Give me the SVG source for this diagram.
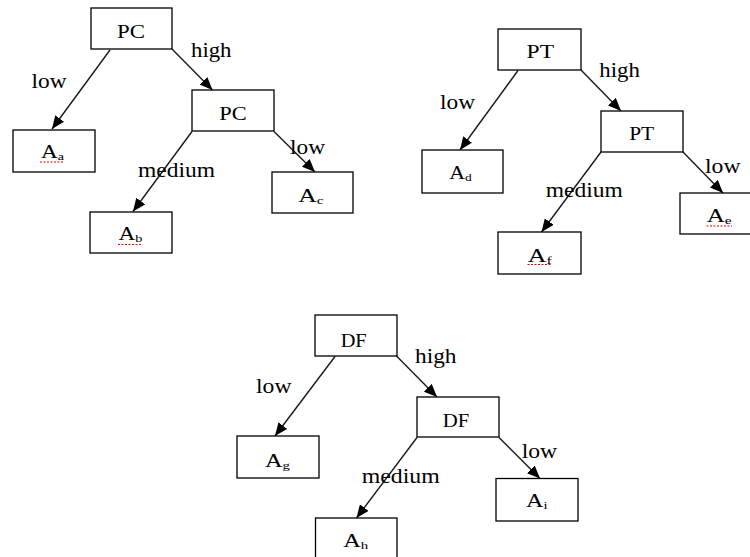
<svg xmlns="http://www.w3.org/2000/svg" width="750" height="557" viewBox="0 0 750 557">
<defs>
<marker id="arr" viewBox="0 0 13 11" refX="13" refY="5.5" markerWidth="13" markerHeight="11" markerUnits="userSpaceOnUse" orient="auto">
<path d="M0,0 L13,5.5 L0,11 Z" fill="#000"/>
</marker>
<style>
rect.n{fill:#fff;stroke:#000;stroke-width:1.3}
.t{font-family:"Liberation Serif","Times New Roman",serif;font-size:18px;fill:#000;text-anchor:middle}
.l{font-family:"Liberation Serif","Times New Roman",serif;font-size:20px;fill:#000}
.s{font-size:11px}
line.e{stroke:#1a1a1a;stroke-width:1.4;marker-end:url(#arr)}
.sq{stroke:#d00;stroke-width:1;stroke-dasharray:2 1.5;fill:none}
</style>
</defs>
<rect width="750" height="557" fill="#fff"/>

<g id="edges">
<line class="e" x1="110" y1="50" x2="52" y2="129"/>
<line class="e" x1="172" y1="49" x2="212.5" y2="90"/>
<line class="e" x1="192" y1="131.5" x2="133" y2="211.5"/>
<line class="e" x1="274" y1="131.5" x2="315" y2="172"/>
<line class="e" x1="518" y1="70.5" x2="460" y2="150"/>
<line class="e" x1="581" y1="70" x2="621" y2="111"/>
<line class="e" x1="601" y1="152" x2="541.5" y2="232"/>
<line class="e" x1="683" y1="152" x2="723" y2="193"/>
<line class="e" x1="335" y1="356.5" x2="275" y2="436"/>
<line class="e" x1="396.5" y1="356" x2="437" y2="397"/>
<line class="e" x1="417" y1="437.5" x2="356.5" y2="518"/>
<line class="e" x1="499" y1="437.5" x2="540" y2="478.5"/>
</g>

<g id="edge-labels">
<text class="l" x="31.5" y="88" textLength="35" lengthAdjust="spacingAndGlyphs">low</text>
<text class="l" x="191" y="56.5" textLength="40.5" lengthAdjust="spacingAndGlyphs">high</text>
<text class="l" x="138" y="176.5" textLength="77" lengthAdjust="spacingAndGlyphs">medium</text>
<text class="l" x="290" y="154" textLength="35" lengthAdjust="spacingAndGlyphs">low</text>

<text class="l" x="440" y="109.3" textLength="35" lengthAdjust="spacingAndGlyphs">low</text>
<text class="l" x="599.3" y="77.3" textLength="40.5" lengthAdjust="spacingAndGlyphs">high</text>
<text class="l" x="545.7" y="196.7" textLength="77" lengthAdjust="spacingAndGlyphs">medium</text>
<text class="l" x="705" y="173.3" textLength="35.5" lengthAdjust="spacingAndGlyphs">low</text>

<text class="l" x="256" y="393.3" textLength="35.5" lengthAdjust="spacingAndGlyphs">low</text>
<text class="l" x="415" y="363.3" textLength="41.5" lengthAdjust="spacingAndGlyphs">high</text>
<text class="l" x="361.7" y="482.7" textLength="78" lengthAdjust="spacingAndGlyphs">medium</text>
<text class="l" x="521.7" y="458.3" textLength="35.5" lengthAdjust="spacingAndGlyphs">low</text>
</g>

<g id="pc1"><rect class="n" x="91" y="8" width="81" height="41"/><text class="t" x="131" y="38" textLength="28" lengthAdjust="spacingAndGlyphs">PC</text></g>
<g id="pc2"><rect class="n" x="192" y="90" width="82" height="41"/><text class="t" x="233" y="119.5" textLength="27.5" lengthAdjust="spacingAndGlyphs">PC</text></g>
<g id="aa"><rect class="n" x="13" y="130" width="82" height="42"/><text class="t" x="52.5" y="158" textLength="23" lengthAdjust="spacingAndGlyphs">A<tspan class="s" dy="2">a</tspan></text><line class="sq" x1="40" y1="162" x2="64" y2="162"/></g>
<g id="ab"><rect class="n" x="90" y="212" width="82" height="41"/><text class="t" x="130.5" y="240" textLength="24" lengthAdjust="spacingAndGlyphs">A<tspan class="s" dy="2">b</tspan></text><line class="sq" x1="118" y1="244.5" x2="142" y2="244.5"/></g>
<g id="ac"><rect class="n" x="272" y="172" width="81" height="41"/><text class="t" x="311" y="201.7" textLength="25.5" lengthAdjust="spacingAndGlyphs">A<tspan class="s" dy="2">c</tspan></text></g>

<g id="pt1"><rect class="n" x="498" y="29" width="83" height="41"/><text class="t" x="540.3" y="58" textLength="27.5" lengthAdjust="spacingAndGlyphs">PT</text></g>
<g id="pt2"><rect class="n" x="601" y="111" width="82" height="41"/><text class="t" x="641.7" y="140" textLength="25" lengthAdjust="spacingAndGlyphs">PT</text></g>
<g id="ad"><rect class="n" x="422" y="150" width="81" height="43"/><text class="t" x="460.5" y="179.3" textLength="22.5" lengthAdjust="spacingAndGlyphs">A<tspan class="s" dy="2">d</tspan></text></g>
<g id="af"><rect class="n" x="498" y="232" width="83" height="42"/><text class="t" x="539.7" y="261.7" textLength="24" lengthAdjust="spacingAndGlyphs">A<tspan class="s" dy="2">f</tspan></text><line class="sq" x1="527.5" y1="264.5" x2="551.5" y2="264.5"/></g>
<g id="ae"><rect class="n" x="680" y="193" width="75" height="41"/><text class="t" x="719.2" y="221.7" textLength="25" lengthAdjust="spacingAndGlyphs">A<tspan class="s" dy="2">e</tspan></text><line class="sq" x1="706.5" y1="226" x2="732" y2="226"/></g>

<g id="df1"><rect class="n" x="315" y="315" width="82" height="41"/><text class="t" x="353.7" y="346.7" textLength="26" lengthAdjust="spacingAndGlyphs">DF</text></g>
<g id="df2"><rect class="n" x="417" y="397" width="82" height="40"/><text class="t" x="456" y="426.7" textLength="26.5" lengthAdjust="spacingAndGlyphs">DF</text></g>
<g id="ag"><rect class="n" x="237" y="436" width="82" height="42"/><text class="t" x="277.5" y="466.7" textLength="25" lengthAdjust="spacingAndGlyphs">A<tspan class="s" dy="2">g</tspan></text></g>
<g id="ah"><rect class="n" x="315.5" y="518" width="81.5" height="45"/><text class="t" x="355.8" y="546.7" textLength="25" lengthAdjust="spacingAndGlyphs">A<tspan class="s" dy="2">h</tspan></text></g>
<g id="ai"><rect class="n" x="496" y="478.5" width="82" height="42.5"/><text class="t" x="536.8" y="507.3" textLength="21.5" lengthAdjust="spacingAndGlyphs">A<tspan class="s" dy="2">i</tspan></text></g>
</svg>
